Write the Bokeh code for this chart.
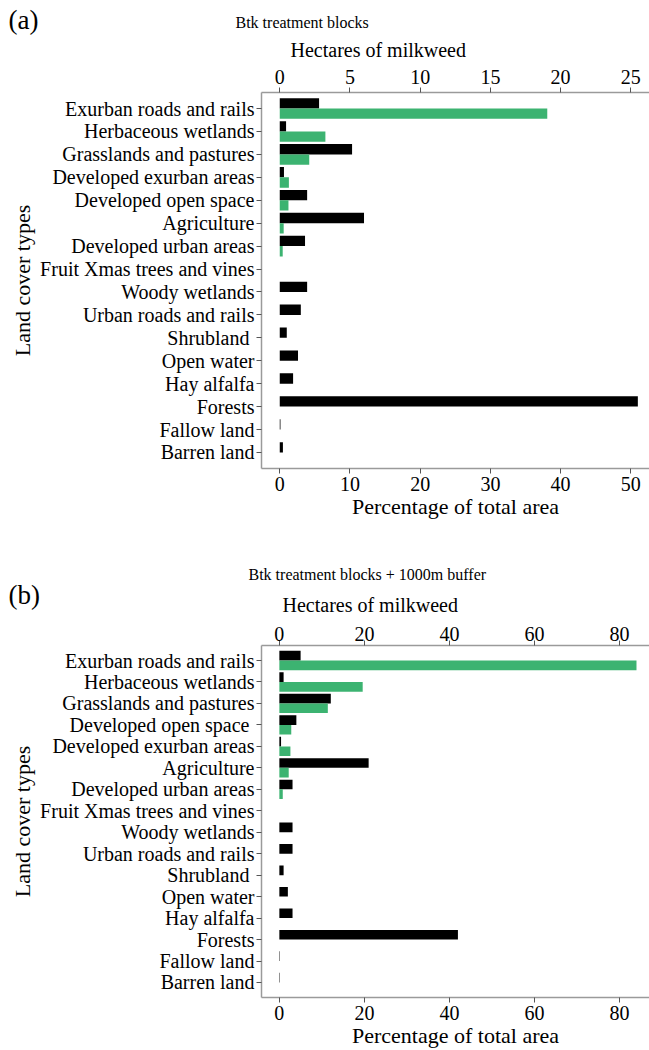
from bokeh.plotting import figure
from bokeh.models import FactorRange, Range1d, LinearAxis, Label, FixedTicker
from bokeh.layouts import column
from bokeh.transform import dodge
from bokeh.embed import file_html
from bokeh.resources import INLINE

# ---------------- data ----------------
cats_a = ["Exurban roads and rails", "Herbaceous wetlands", "Grasslands and pastures",
          "Developed exurban areas", "Developed open space", "Agriculture",
          "Developed urban areas", "Fruit Xmas trees and vines", "Woody wetlands",
          "Urban roads and rails", "Shrubland ", "Open water", "Hay alfalfa",
          "Forests", "Fallow land", "Barren land"]
pct_a = [5.6, 0.9, 10.3, 0.6, 3.9, 12.0, 3.6, 0.0, 3.9, 3.0, 1.0, 2.6, 1.9, 51.0, 0.1, 0.45]
ha_a = [19.05, 3.25, 2.1, 0.65, 0.62, 0.28, 0.21, 0, 0, 0, 0, 0, 0, 0, 0, 0]

cats_b = ["Exurban roads and rails", "Herbaceous wetlands", "Grasslands and pastures",
          "Developed open space ", "Developed exurban areas", "Agriculture",
          "Developed urban areas", "Fruit Xmas trees and vines", "Woody wetlands",
          "Urban roads and rails", "Shrubland ", "Open water", "Hay alfalfa",
          "Forests", "Fallow land", "Barren land"]
pct_b = [5.0, 1.0, 12.1, 4.0, 0.4, 21.0, 3.1, 0.0, 3.1, 3.1, 1.0, 2.0, 3.1, 42.0, 0.1, 0.1]
ha_b = [84.0, 19.6, 11.4, 2.8, 2.6, 2.2, 0.8, 0, 0, 0, 0, 0, 0, 0, 0, 0]

ticks_a_pct = [0, 10, 20, 30, 40, 50]
ticks_a_ha = [0, 5, 10, 15, 20, 25]
ticks_b_pct = [0, 20, 40, 60, 80]
ticks_b_ha = [0, 20, 40, 60, 80]

FONT = "Liberation Serif"
GREEN = "#3cb371"
AXIS_COL = "#9a9a9a"
W = 649
LEFT = 261


def no_align(p):
    try:
        p.frame_align = False
    except Exception:
        pass


def style_axis(ax, lab_so=2, title_so=0):
    ax.axis_line_color = AXIS_COL
    ax.axis_line_width = 1.5
    ax.major_tick_line_color = "#555555"
    ax.major_tick_in = 0
    ax.major_tick_out = 5
    ax.minor_tick_line_color = None
    ax.major_label_text_font = FONT
    ax.major_label_text_font_size = "20px"
    ax.major_label_text_color = "black"
    ax.major_label_standoff = lab_so
    ax.axis_label_text_font = FONT
    ax.axis_label_text_font_size = "22px"
    ax.axis_label_text_font_style = "normal"
    ax.axis_label_text_color = "black"
    ax.axis_label_standoff = title_so


def header(h, tag, tag_xy, title, title_xy, axis_title, axis_title_xy):
    """Strip above a panel holding the panel tag, its title and the top-axis title.
    Its frame spans the whole strip: data x = page x, data y = strip y."""
    p = figure(width=W, height=h, x_range=Range1d(0, W), y_range=Range1d(h, 0),
               output_backend="svg", toolbar_location=None,
               x_axis_location=None, y_axis_location=None, min_border=0,
               min_border_left=0, min_border_right=0,
               min_border_top=0, min_border_bottom=0)
    no_align(p)
    p.title.visible = False
    p.outline_line_color = None
    p.xgrid.visible = False
    p.ygrid.visible = False
    p.add_layout(Label(x=tag_xy[0], y=tag_xy[1], text=tag, text_font=FONT,
                       text_font_size="27px", text_baseline="top", text_color="black"))
    p.add_layout(Label(x=title_xy[0], y=title_xy[1], text=title, text_font=FONT,
                       text_font_size="16px", text_baseline="alphabetic",
                       text_color="black"))
    p.add_layout(Label(x=axis_title_xy[0], y=axis_title_xy[1], text=axis_title,
                       text_font=FONT, text_font_size="20px",
                       text_baseline="alphabetic", text_color="black"))
    return p


def panel(cats, pct, ha, xr, har, tp, th, H, top, bottom, top_so):
    fr = FactorRange(factors=list(reversed(cats)), range_padding=0.2,
                     range_padding_units="absolute")
    p = figure(width=W, height=H, y_range=fr, x_range=Range1d(*xr),
               output_backend="svg", toolbar_location=None,
               min_border_left=LEFT, min_border_right=0, min_border_top=top,
               min_border_bottom=bottom)
    no_align(p)
    p.title.visible = False
    p.extra_x_ranges = {"ha": Range1d(*har)}
    p.outline_line_color = None
    p.xgrid.visible = False
    p.ygrid.visible = False
    p.background_fill_color = "white"
    p.border_fill_color = "white"

    src = dict(cat=cats, pct=pct, ha=ha)
    p.hbar(y=dodge("cat", 0.225, range=fr), left=0, right="pct", height=0.45,
           source=src, fill_color="black", line_color=None)
    p.hbar(y=dodge("cat", -0.225, range=fr), left=0, right="ha", height=0.45,
           source=src, fill_color=GREEN, line_color=None, x_range_name="ha")

    bottom_ax = p.below[0]
    bottom_ax.ticker = FixedTicker(ticks=tp)
    bottom_ax.axis_label = "Percentage of total area"
    style_axis(bottom_ax, 3, 0)

    top_ax = LinearAxis(x_range_name="ha", ticker=FixedTicker(ticks=th))
    style_axis(top_ax, top_so, 0)
    p.add_layout(top_ax, "above")

    left_ax = p.left[0]
    left_ax.axis_label = "Land cover types"
    style_axis(left_ax, 2, 2)
    return p


h1 = header(60, "(a)", (8, 4), "Btk treatment blocks", (235, 22),
            "Hectares of milkweed", (290, 49))
p1 = panel(cats_a, pct_a, ha_a, (-2.6, 52.66), (-1.3, 26.33), ticks_a_pct, ticks_a_ha,
           465, 32, 57, 4)
h2 = header(91, "(b)", (8, 54), "Btk treatment blocks + 1000m buffer", (248, 49),
            "Hectares of milkweed", (282, 79))
p2 = panel(cats_b, pct_b, ha_b, (-4.2, 87.06), (-4.2, 87.06), ticks_b_pct, ticks_b_ha,
           434, 29, 51, 0)

layout = column(h1, p1, h2, p2)
open("out.html", "w").write(file_html(layout, INLINE))
